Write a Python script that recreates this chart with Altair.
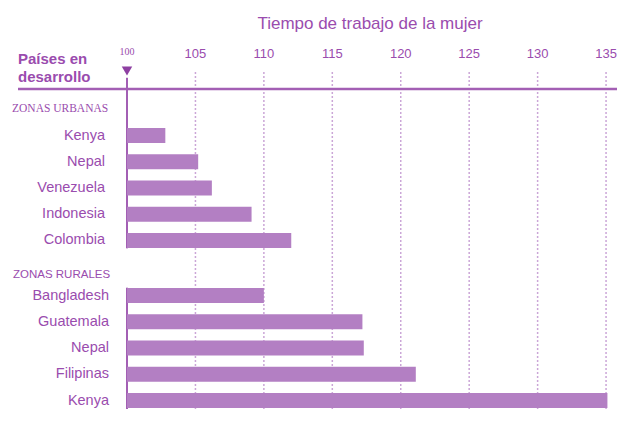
import altair as alt
import pandas as pd

# ---- data ----
urban_countries = ["Kenya", "Nepal", "Venezuela", "Indonesia", "Colombia"]
urban_values = [102.8, 105.2, 106.2, 109.1, 112.0]
rural_countries = ["Bangladesh", "Guatemala", "Nepal", "Filipinas", "Kenya"]
rural_values = [110.0, 117.2, 117.3, 121.1, 135.1]
group_labels = ["ZONAS URBANAS", "ZONAS RURALES"]
tick_values = [100, 105, 110, 115, 120, 125, 130, 135]
tick_labels = ["100", "105", "110", "115", "120", "125", "130", "135"]
title_text = "Tiempo de trabajo de la mujer"
left_title = ["Países en", "desarrollo"]
base_value = 100

# ---- layout (row units) ----
urban_start = 0.0
rural_start = 6.1
urban_header_row = -1.0
rural_header_row = 5.3

TEXT = "#9a4cae"
BAR = "#b37fc3"
LINE = "#a35fb4"
GRID = "#cba6d7"

W, H = 609, 401

urban = pd.DataFrame({
    "country": urban_countries,
    "value": urban_values,
    "row": [urban_start + i for i in range(len(urban_countries))],
})
rural = pd.DataFrame({
    "country": rural_countries,
    "value": rural_values,
    "row": [rural_start + i for i in range(len(rural_countries))],
})
bars_df = pd.concat([urban, rural], ignore_index=True)
bars_df["base"] = base_value

headers_df = pd.DataFrame({"label": group_labels,
                           "row": [urban_header_row, rural_header_row]})

seg_df = pd.DataFrame({
    "base": [base_value, base_value],
    "y0": [-2.2, rural_start - 0.3],
    "y1": [urban["row"].max() + 0.3, 11.0],
})

ticks_df = pd.DataFrame({"tick": tick_values, "label": tick_labels})

xscale = alt.Scale(domain=[91.305, 135.80], nice=False, zero=False, padding=0)
yscale = alt.Scale(domain=[-4.859, 10.423], reverse=True, nice=False, zero=False, padding=0)

grid = alt.Chart(ticks_df[ticks_df.tick > base_value]).mark_rule(
    color=GRID, strokeWidth=1.5, strokeDash=[2, 2]
).encode(
    x=alt.X("tick:Q", scale=xscale, axis=None),
    y=alt.value(64), y2=alt.value(H),
)

axis_line = alt.Chart(ticks_df.head(1)).mark_rule(color=LINE, strokeWidth=2.5).encode(
    x=alt.value(10), x2=alt.value(W), y=alt.value(81)
)

segments = alt.Chart(seg_df).mark_rule(color=LINE, strokeWidth=2).encode(
    x=alt.X("base:Q", scale=xscale, axis=None),
    y=alt.Y("y0:Q", scale=yscale, axis=None),
    y2="y1:Q",
)

bars = alt.Chart(bars_df).mark_bar(color=BAR, size=15, orient="horizontal").encode(
    x=alt.X("value:Q", scale=xscale, axis=None),
    x2="base:Q",
    y=alt.Y("row:Q", scale=yscale, axis=None),
)

urban_labels = alt.Chart(urban).mark_text(
    align="right", baseline="middle", font="Liberation Sans", fontSize=14.5, color=TEXT
).encode(x=alt.value(97), y=alt.Y("row:Q", scale=yscale, axis=None), text="country:N")

rural_labels = alt.Chart(rural).mark_text(
    align="right", baseline="middle", font="Liberation Sans", fontSize=14.5, color=TEXT
).encode(x=alt.value(101), y=alt.Y("row:Q", scale=yscale, axis=None), text="country:N")

hdr_urban = alt.Chart(headers_df.iloc[[0]]).mark_text(
    align="left", baseline="middle", font="Liberation Serif", fontSize=11.5, color=TEXT
).encode(x=alt.value(4), y=alt.Y("row:Q", scale=yscale, axis=None), text="label:N")

hdr_rural = alt.Chart(headers_df.iloc[[1]]).mark_text(
    align="left", baseline="middle", font="Liberation Sans",
    fontSize=11.5, color=TEXT
).encode(x=alt.value(5), y=alt.Y("row:Q", scale=yscale, axis=None), text="label:N")

tick_text = alt.Chart(ticks_df[ticks_df.tick > base_value]).mark_text(
    align="center", baseline="alphabetic", font="Liberation Sans", fontSize=13, color=TEXT
).encode(x=alt.X("tick:Q", scale=xscale, axis=None), y=alt.value(50), text="label:N")

tick_first = alt.Chart(ticks_df[ticks_df.tick == base_value]).mark_text(
    align="center", baseline="alphabetic", font="Liberation Serif", fontSize=10,
    color=TEXT
).encode(x=alt.X("tick:Q", scale=xscale, axis=None), y=alt.value(47), text="label:N")

triangle = alt.Chart(ticks_df[ticks_df.tick == base_value]).mark_point(
    shape="triangle-down", filled=True, color="#8e40a2", size=110, opacity=1
).encode(x=alt.X("tick:Q", scale=xscale, axis=None), y=alt.value(63))

title = alt.Chart(pd.DataFrame({"t": [title_text]})).mark_text(
    align="center", baseline="alphabetic", font="Liberation Sans", fontSize=17, color=TEXT
).encode(x=alt.value(362), y=alt.value(21), text="t:N")

left = alt.Chart(pd.DataFrame({"t": [left_title]})).mark_text(
    align="left", baseline="middle", font="Liberation Sans", fontSize=15,
    fontWeight="bold", color=TEXT, lineHeight=18
).encode(x=alt.value(10), y=alt.value(51), text="t")

chart = alt.layer(
    grid, axis_line, segments, bars, urban_labels, rural_labels, hdr_urban, hdr_rural,
    tick_text, tick_first, triangle, title, left
).properties(
    width=W, height=H, padding=0,
    autosize=alt.AutoSizeParams(type="none"),
    background="white",
).configure_view(stroke=None)

chart.save("out.html", embed_options={"renderer": "svg", "actions": False})
